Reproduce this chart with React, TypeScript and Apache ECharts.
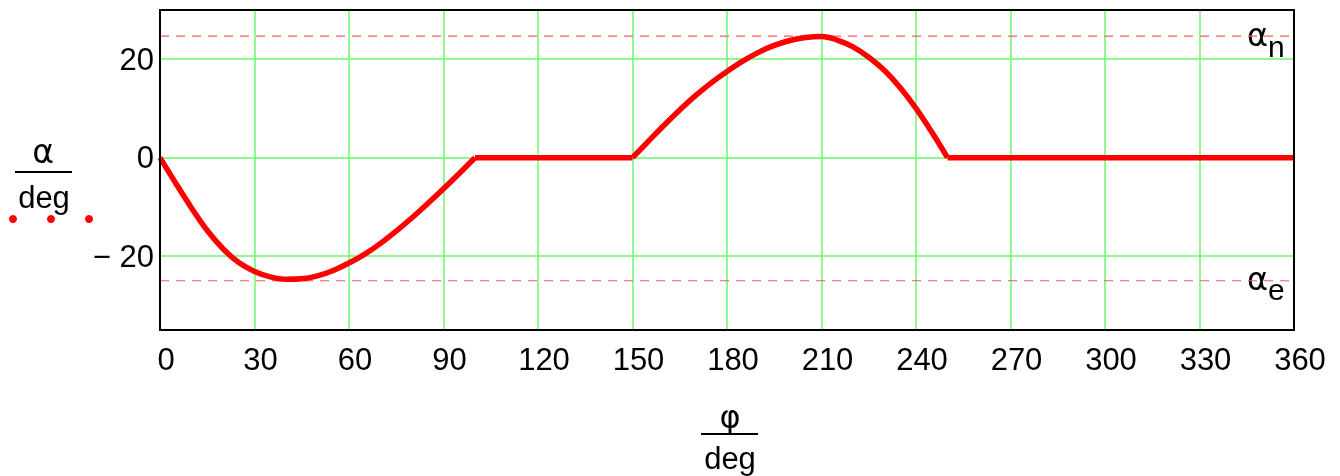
import React, { useEffect, useRef } from "react";
import * as echarts from "echarts";

const xTicks = [0, 30, 60, 90, 120, 150, 180, 210, 240, 270, 300, 330, 360];
const yTicks = [-20, 0, 20];

// dip (0..100 deg)
const dipPhi = [0, 5, 10, 15, 20, 25, 30, 35, 40, 45, 50, 55, 60, 65, 70, 75, 80, 85, 90, 95, 100];
const dipAlpha = [0, -5.2, -10.2, -14.8, -18.5, -21.3, -23.1, -24.2, -24.7, -24.6, -24.0, -22.9, -21.4, -19.6, -17.4, -14.9, -12.2, -9.3, -6.3, -3.2, 0];
// dwell (100..150 deg)
const dwell1Phi = [100, 150];
const dwell1Alpha = [0, 0];
// hump (150..250 deg)
const humpPhi = [150, 155, 160, 165, 170, 175, 180, 185, 190, 195, 200, 205, 210, 215, 220, 225, 230, 235, 240, 245, 250];
const humpAlpha = [0, 3.3, 6.6, 9.7, 12.6, 15.2, 17.5, 19.6, 21.4, 22.8, 23.8, 24.4, 24.6, 23.9, 22.5, 20.4, 17.7, 14.2, 10.0, 5.2, 0];
// dwell (250..360 deg)
const dwell2Phi = [250, 360];
const dwell2Alpha = [0, 0];

const alphaN = 24.7;
const alphaE = -25;
const phiRange = [0, 360];

const FONT = "Liberation Sans, Arial, sans-serif";
const GREEK = "DejaVu Sans, Liberation Sans, sans-serif";
const FS = 31;
const GRID_GREEN = "#6af86a";

function pairs(xs: number[], ys: number[]) {
  return xs.map((x, i) => [x, ys[i]]);
}

export default function App() {
  const ref = useRef<HTMLDivElement>(null);
  useEffect(() => {
    if (!ref.current) return;
    const chart = echarts.init(ref.current, undefined, { renderer: "svg" });
    const curveStyle = { color: "#ff0000", width: 5.5 };
    const mkSeries = (data: number[][], smooth: number | boolean) => ({
      type: "line",
      data,
      smooth,
      symbol: "none",
      lineStyle: curveStyle,
      z: 5,
      silent: true,
    });
    const dashSeries = (v: number) => ({
      type: "line",
      data: phiRange.map((p) => [p, v]),
      symbol: "none",
      silent: true,
      z: 3,
      lineStyle: { color: "#ff5a5a", width: 1.2, type: [9, 7] },
    });
    chart.setOption({
      animation: false,
      grid: {
        left: 160,
        top: 10,
        width: 1134,
        height: 320,
        show: false,
      },
      xAxis: {
        type: "value",
        min: 0,
        max: 360,
        interval: 30,
        axisLine: { show: false },
        axisTick: { show: false },
        axisLabel: {
          fontFamily: FONT,
          fontSize: FS,
          color: "#000",
          margin: 14,
          padding: [0, 0, 0, 12],
          customValues: xTicks,
        },
        splitLine: { show: true, lineStyle: { color: GRID_GREEN, width: 1.5 } },
      },
      yAxis: {
        type: "value",
        min: -35,
        max: 30,
        axisLine: { show: false },
        axisTick: { show: false, customValues: yTicks },
        axisLabel: {
          fontFamily: FONT,
          fontSize: FS,
          color: "#000",
          margin: 6,
          padding: [10, 0, 0, 0],
          customValues: yTicks,
          formatter: (v: number) => (v < 0 ? "\u2212 " + Math.abs(v) : String(v)),
        },
        splitLine: { show: true, lineStyle: { color: GRID_GREEN, width: 1.5 } },
      },
      series: [
        dashSeries(alphaN),
        dashSeries(alphaE),
        mkSeries(pairs(dipPhi, dipAlpha), 0.4),
        mkSeries(pairs(dwell1Phi, dwell1Alpha), false),
        mkSeries(pairs(humpPhi, humpAlpha), 0.4),
        mkSeries(pairs(dwell2Phi, dwell2Alpha), false),
      ],
    });

    const yN = chart.convertToPixel({ gridIndex: 0 }, [0, alphaN])[1];
    const yE = chart.convertToPixel({ gridIndex: 0 }, [0, alphaE])[1];
    const [x0, yTop] = chart.convertToPixel({ gridIndex: 0 }, [0, 30]);
    const [x1, yBot] = chart.convertToPixel({ gridIndex: 0 }, [360, -35]);
    const xc = (x0 + x1) / 2;
    const txt = (x: number, y: number, text: string, align = "center", size = FS, fam = FONT) => ({
      type: "text",
      x,
      y,
      silent: true,
      style: { text, fill: "#000", font: `${size}px ${fam}`, align, verticalAlign: "middle" },
    });
    chart.setOption({
      graphic: [
        // frame
        {
          type: "rect",
          z: 100,
          silent: true,
          shape: { x: x0, y: yTop, width: x1 - x0, height: yBot - yTop },
          style: { fill: "none", stroke: "#000", lineWidth: 2 },
        },
        // y-axis name: alpha / deg
        txt(43, 151, "\u03b1", "center", 33, GREEK),
        { type: "line", shape: { x1: 15, y1: 172, x2: 72, y2: 172 }, style: { stroke: "#000", lineWidth: 2 } },
        txt(44, 197, "deg"),
        { type: "circle", shape: { cx: 13, cy: 219, r: 4 }, style: { fill: "#ff0000" } },
        { type: "circle", shape: { cx: 51, cy: 219, r: 4 }, style: { fill: "#ff0000" } },
        { type: "circle", shape: { cx: 89, cy: 219, r: 4 }, style: { fill: "#ff0000" } },
        // x-axis name: phi / deg
        txt(xc + 3, 417, "\u03c6", "center", 32, GREEK),
        { type: "line", shape: { x1: xc - 26, y1: 434, x2: xc + 31, y2: 434 }, style: { stroke: "#000", lineWidth: 2 } },
        txt(xc + 3, 458, "deg"),
        // alpha_n / alpha_e
        txt(1247, yN - 1, "\u03b1", "left", 32, GREEK),
        txt(1268, yN + 10, "n", "left", 30),
        txt(1247, yE - 2, "\u03b1", "left", 32, GREEK),
        txt(1268, yE + 9, "e", "left", 30),
      ],
    });
    return () => chart.dispose();
  }, []);
  return <div ref={ref} style={{ position: "fixed", left: 0, top: 0, width: 1340, height: 476 }} />;
}
